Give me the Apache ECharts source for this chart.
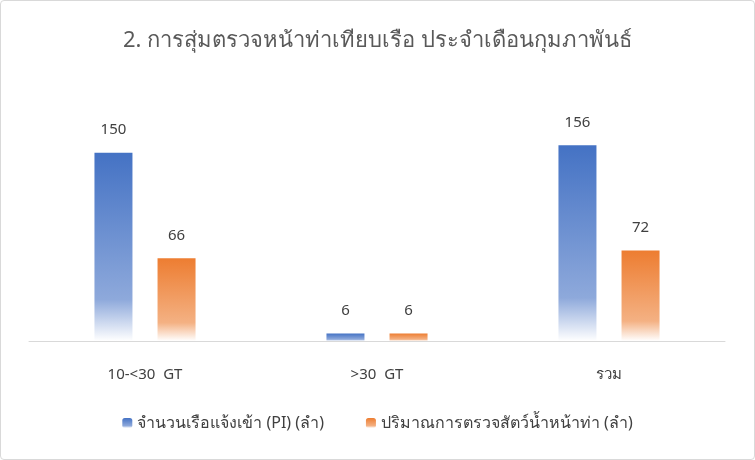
<!DOCTYPE html>
<html><head><meta charset="utf-8">
<script src="https://cdn.jsdelivr.net/npm/echarts@6/dist/echarts.min.js"></script>
<style>html,body{margin:0;padding:0;background:#fff}
#c{width:753px;height:458px;border:1px solid #d9d9d9;border-radius:4px}</style>
</head><body><div id="c"></div>
<script>
const titleText = '2. การสุ่มตรวจหน้าท่าเทียบเรือ ประจำเดือนกุมภาพันธ์';
const categories = ['10-<30  GT', '>30  GT', 'รวม'];
const seriesNames = ['จำนวนเรือแจ้งเข้า (PI) (ลำ)', 'ปริมาณการตรวจสัตว์น้ำหน้าท่า (ลำ)'];
const piValues = [150, 6, 156];
const inspectValues = [66, 6, 72];

const FONT = '"Noto Sans", "Liberation Sans", sans-serif';
function grad(top, mid) {
  return new echarts.graphic.LinearGradient(0, 0, 0, 1, [
    {offset: 0, color: top}, {offset: 0.78, color: mid}, {offset: 1, color: '#ffffff'}
  ]);
}
const chart = echarts.init(document.getElementById('c'));
chart.setOption({
  animation: false,
  textStyle: {fontFamily: FONT},
  title: {text: titleText, left: 'center', top: 24,
    textStyle: {fontSize: 22, fontWeight: 'normal', color: '#595959', fontFamily: FONT}},
  legend: {bottom: 23, left: 'center', itemWidth: 10, itemHeight: 10, itemGap: 42,
    textStyle: {fontSize: 16, color: '#404040', fontFamily: FONT}},
  grid: {left: 28, right: 29, top: 114, bottom: 118},
  xAxis: {type: 'category', data: categories,
    axisLine: {lineStyle: {color: '#d9d9d9', width: 1}},
    axisTick: {show: false},
    axisLabel: {fontSize: 15, color: '#404040', margin: 26, fontFamily: FONT}},
  yAxis: {type: 'value', min: 0, max: 180, show: false, splitLine: {show: false}},
  series: [
    {name: seriesNames[0], type: 'bar', data: piValues, barWidth: 38, barGap: '66%',
     itemStyle: {color: grad('#4472C4', '#8EA9DB')},
     label: {show: true, position: 'top', distance: 15, fontSize: 15, color: '#404040', fontFamily: FONT}},
    {name: seriesNames[1], type: 'bar', data: inspectValues, barWidth: 38,
     itemStyle: {color: grad('#ED7D31', '#F4B183')},
     label: {show: true, position: 'top', distance: 15, fontSize: 15, color: '#404040', fontFamily: FONT}}
  ]
});
</script></body></html>
